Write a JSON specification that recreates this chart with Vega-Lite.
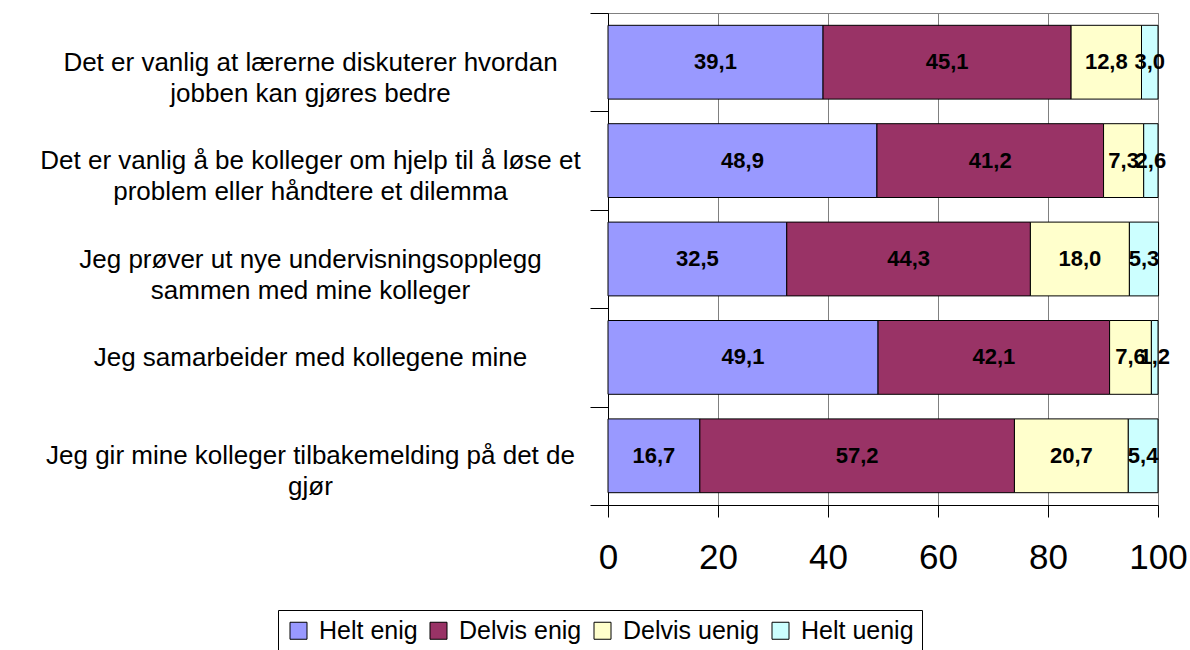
{
  "$schema": "https://vega.github.io/schema/vega-lite/v6.json",
  "width": 550,
  "height": 492,
  "autosize": "none",
  "padding": {"left": 608, "top": 13, "right": 32, "bottom": 145},
  "background": "white",
  "config": {
    "view": {"stroke": "#808080", "strokeWidth": 1},
    "font": "Liberation Sans"
  },
  "data": {
    "values": [
      {"q": "Det er vanlig at lærerne diskuterer hvordan|jobben kan gjøres bedre", "k": "Helt enig", "o": 1, "v": 39.1},
      {"q": "Det er vanlig at lærerne diskuterer hvordan|jobben kan gjøres bedre", "k": "Delvis enig", "o": 2, "v": 45.1},
      {"q": "Det er vanlig at lærerne diskuterer hvordan|jobben kan gjøres bedre", "k": "Delvis uenig", "o": 3, "v": 12.8},
      {"q": "Det er vanlig at lærerne diskuterer hvordan|jobben kan gjøres bedre", "k": "Helt uenig", "o": 4, "v": 3.0},
      {"q": "Det er vanlig å be kolleger om hjelp til å løse et|problem eller håndtere et dilemma", "k": "Helt enig", "o": 1, "v": 48.9},
      {"q": "Det er vanlig å be kolleger om hjelp til å løse et|problem eller håndtere et dilemma", "k": "Delvis enig", "o": 2, "v": 41.2},
      {"q": "Det er vanlig å be kolleger om hjelp til å løse et|problem eller håndtere et dilemma", "k": "Delvis uenig", "o": 3, "v": 7.3},
      {"q": "Det er vanlig å be kolleger om hjelp til å løse et|problem eller håndtere et dilemma", "k": "Helt uenig", "o": 4, "v": 2.6},
      {"q": "Jeg prøver ut nye undervisningsopplegg|sammen med mine kolleger", "k": "Helt enig", "o": 1, "v": 32.5},
      {"q": "Jeg prøver ut nye undervisningsopplegg|sammen med mine kolleger", "k": "Delvis enig", "o": 2, "v": 44.3},
      {"q": "Jeg prøver ut nye undervisningsopplegg|sammen med mine kolleger", "k": "Delvis uenig", "o": 3, "v": 18.0},
      {"q": "Jeg prøver ut nye undervisningsopplegg|sammen med mine kolleger", "k": "Helt uenig", "o": 4, "v": 5.3},
      {"q": "Jeg samarbeider med kollegene mine", "k": "Helt enig", "o": 1, "v": 49.1},
      {"q": "Jeg samarbeider med kollegene mine", "k": "Delvis enig", "o": 2, "v": 42.1},
      {"q": "Jeg samarbeider med kollegene mine", "k": "Delvis uenig", "o": 3, "v": 7.6},
      {"q": "Jeg samarbeider med kollegene mine", "k": "Helt uenig", "o": 4, "v": 1.2},
      {"q": "Jeg gir mine kolleger tilbakemelding på det de|gjør", "k": "Helt enig", "o": 1, "v": 16.7},
      {"q": "Jeg gir mine kolleger tilbakemelding på det de|gjør", "k": "Delvis enig", "o": 2, "v": 57.2},
      {"q": "Jeg gir mine kolleger tilbakemelding på det de|gjør", "k": "Delvis uenig", "o": 3, "v": 20.7},
      {"q": "Jeg gir mine kolleger tilbakemelding på det de|gjør", "k": "Helt uenig", "o": 4, "v": 5.4}
    ]
  },
  "transform": [
    {"stack": "v", "groupby": ["q"], "sort": [{"field": "o", "order": "ascending"}], "as": ["x0", "x1"]},
    {"calculate": "(datum.x0 + datum.x1) / 2", "as": "xm"},
    {"calculate": "replace(format(datum.v, '.1f'), '.', ',')", "as": "lab"}
  ],
  "encoding": {
    "y": {
      "field": "q",
      "type": "nominal",
      "sort": null,
      "scale": {"paddingInner": 0, "paddingOuter": 0},
      "axis": {
        "title": null,
        "domainColor": "black",
        "tickColor": "black",
        "tickSize": 18,
        "tickBand": "extent",
        "grid": false,
        "labelFont": "Liberation Sans",
        "labelFontSize": 26,
        "labelColor": "black",
        "labelAlign": "center",
        "labelBaseline": "middle",
        "labelLineHeight": 31,
        "labelLimit": 0,
        "labelPadding": 280,
        "labelExpr": "split(datum.label, '|')"
      }
    }
  },
  "layer": [
    {
      "mark": {"type": "bar", "stroke": "black", "strokeWidth": 1, "height": {"band": 0.75}},
      "encoding": {
        "x": {
          "field": "x0",
          "type": "quantitative",
          "scale": {"domain": [0, 100], "nice": false},
          "axis": {
            "title": null,
            "orient": "bottom",
            "values": [0, 20, 40, 60, 80, 100],
            "domainColor": "black",
            "tickColor": "black",
            "tickSize": 12,
            "grid": true,
            "gridColor": "#808080",
            "labelFont": "Liberation Sans",
            "labelFontSize": 35,
            "labelColor": "black",
            "labelPadding": 23,
            "labelFlush": false
          }
        },
        "x2": {"field": "x1"},
        "color": {
          "field": "k",
          "type": "nominal",
          "sort": ["Helt enig", "Delvis enig", "Delvis uenig", "Helt uenig"],
          "scale": {
            "domain": ["Helt enig", "Delvis enig", "Delvis uenig", "Helt uenig"],
            "range": ["#9999FF", "#993366", "#FFFFCC", "#CCFFFF"]
          },
          "legend": {
            "orient": "none",
            "legendX": -330,
            "legendY": 597,
            "direction": "horizontal",
            "columns": 4,
            "title": null,
            "strokeColor": "black",
            "fillColor": "white",
            "padding": 8,
            "symbolType": "square",
            "symbolSize": 289,
            "symbolStrokeColor": "black",
            "symbolStrokeWidth": 1,
            "symbolOpacity": 1,
            "labelFont": "Liberation Sans",
            "labelFontSize": 25,
            "labelColor": "black",
            "labelOffset": 8,
            "columnPadding": 8,
            "labelLimit": 0
          }
        }
      }
    },
    {
      "mark": {"type": "text", "fontWeight": "bold", "fontSize": 22, "font": "Liberation Sans", "color": "black", "baseline": "middle", "align": "center"},
      "encoding": {
        "x": {"field": "xm", "type": "quantitative"},
        "text": {"field": "lab", "type": "nominal"}
      }
    }
  ]
}
